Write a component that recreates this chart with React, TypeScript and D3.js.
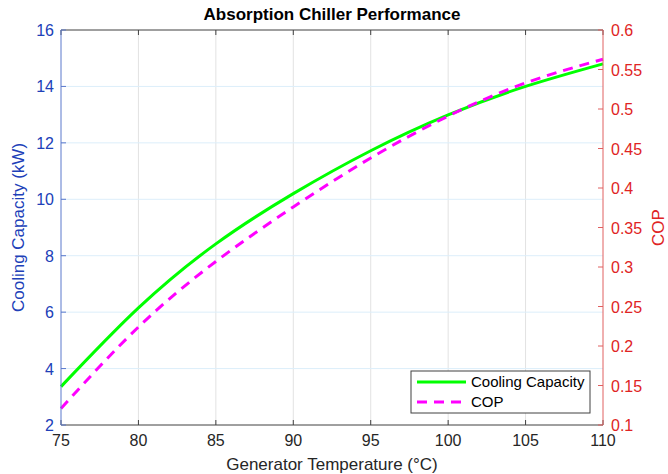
import React from "react";
import * as d3 from "d3";

const temps = [75, 80, 85, 90, 95, 100, 105, 110];
const coolingCapacity = [3.36, 6.15, 8.42, 10.2, 11.72, 12.99, 14.0, 14.8];
const cop = [0.121, 0.224, 0.307, 0.376, 0.438, 0.491, 0.533, 0.563];
const xTicks = [75, 80, 85, 90, 95, 100, 105, 110];
const leftTicks = [2, 4, 6, 8, 10, 12, 14, 16];
const rightTicks = [0.1, 0.15, 0.2, 0.25, 0.3, 0.35, 0.4, 0.45, 0.5, 0.55, 0.6];
const seriesNames = ["Cooling Capacity", "COP"];

const W = 668, H = 474;
const L = 61, R = 603, T = 30, B = 425;
const FONT = "'Liberation Sans', Arial, sans-serif";
const BLUE = "#2040b8";
const BLUE_AX = "#5a78cc";
const RED = "#e02424";
const RED_AX = "#e06060";
const GREEN = "#00ff00";
const MAGENTA = "#ff00ff";

export default function App() {
  const x = d3.scaleLinear().domain([75, 110]).range([L, R]);
  const yL = d3.scaleLinear().domain([2, 16]).range([B, T]);
  const yR = d3.scaleLinear().domain([0.1, 0.6]).range([B, T]);

  const lineL = d3
    .line<number>()
    .x((_, i) => x(temps[i]))
    .y((d) => yL(d))
    .curve(d3.curveNatural);
  const lineR = d3
    .line<number>()
    .x((_, i) => x(temps[i]))
    .y((d) => yR(d))
    .curve(d3.curveNatural);

  const tick = 5;
  const fmtR = (v: number) => String(+v.toFixed(2));

  return (
    <svg
      width={W}
      height={H}
      style={{ position: "absolute", left: 0, top: 0, background: "#fff" }}
      fontFamily={FONT}
    >
      <rect x={0} y={0} width={W} height={H} fill="#fff" />
      {/* grid */}
      {xTicks.slice(1, -1).map((t) => (
        <line key={"gx" + t} x1={x(t)} x2={x(t)} y1={T} y2={B} stroke="#e2e2e2" strokeWidth={1} />
      ))}
      {leftTicks.slice(1, -1).map((t) => (
        <line key={"gy" + t} x1={L} x2={R} y1={yL(t)} y2={yL(t)} stroke="#dceefa" strokeWidth={1} />
      ))}

      {/* series */}
      <path d={lineL(coolingCapacity) || ""} fill="none" stroke={GREEN} strokeWidth={3} />
      <path
        d={lineR(cop) || ""}
        fill="none"
        stroke={MAGENTA}
        strokeWidth={3}
        strokeDasharray="10,7"
      />

      {/* frame top / bottom */}
      <line x1={L} x2={R} y1={T} y2={T} stroke="#404040" strokeWidth={1} />
      <line x1={L} x2={R} y1={B} y2={B} stroke="#404040" strokeWidth={1} />
      {xTicks.map((t) => (
        <g key={"xt" + t}>
          <line x1={x(t)} x2={x(t)} y1={B} y2={B - tick} stroke="#404040" />
          <line x1={x(t)} x2={x(t)} y1={T} y2={T + tick} stroke="#404040" />
          <text x={x(t)} y={B + 21} textAnchor="middle" fontSize={16} fill="#262626">
            {t}
          </text>
        </g>
      ))}

      {/* left axis */}
      <line x1={L} x2={L} y1={T} y2={B} stroke={BLUE_AX} strokeWidth={1} />
      {leftTicks.map((t) => (
        <g key={"yl" + t}>
          <line x1={L} x2={L + tick} y1={yL(t)} y2={yL(t)} stroke={BLUE_AX} />
          <text x={L - 7} y={yL(t) + 6} textAnchor="end" fontSize={16} fill={BLUE}>
            {t}
          </text>
        </g>
      ))}

      {/* right axis */}
      <line x1={R} x2={R} y1={T} y2={B} stroke={RED_AX} strokeWidth={1} />
      {rightTicks.map((t) => (
        <g key={"yr" + t}>
          <line x1={R} x2={R - tick} y1={yR(t)} y2={yR(t)} stroke={RED_AX} />
          <text x={R + 8} y={yR(t) + 6} textAnchor="start" fontSize={16} fill={RED}>
            {fmtR(t)}
          </text>
        </g>
      ))}

      {/* titles */}
      <text x={(L + R) / 2} y={20} textAnchor="middle" fontSize={17} fontWeight="bold" fill="#000">
        Absorption Chiller Performance
      </text>
      <text x={(L + R) / 2} y={470} textAnchor="middle" fontSize={17} fill="#262626">
        Generator Temperature (°C)
      </text>
      <text
        transform={`translate(24, ${(T + B) / 2}) rotate(-90)`}
        textAnchor="middle"
        fontSize={17}
        fill={BLUE}
      >
        Cooling Capacity (kW)
      </text>
      <text
        transform={`translate(664, ${(T + B) / 2}) rotate(-90)`}
        textAnchor="middle"
        fontSize={17}
        fill={RED}
      >
        COP
      </text>

      {/* legend */}
      <g>
        <rect x={411} y={371} width={179} height={42} fill="#fff" stroke="#404040" strokeWidth={1} />
        <line x1={417} x2={466} y1={382} y2={382} stroke={GREEN} strokeWidth={3} />
        <text x={471} y={387} fontSize={15} fill="#000">
          {seriesNames[0]}
        </text>
        <line
          x1={417}
          x2={466}
          y1={402}
          y2={402}
          stroke={MAGENTA}
          strokeWidth={3}
          strokeDasharray="10,7"
        />
        <text x={471} y={407} fontSize={15} fill="#000">
          {seriesNames[1]}
        </text>
      </g>
    </svg>
  );
}
